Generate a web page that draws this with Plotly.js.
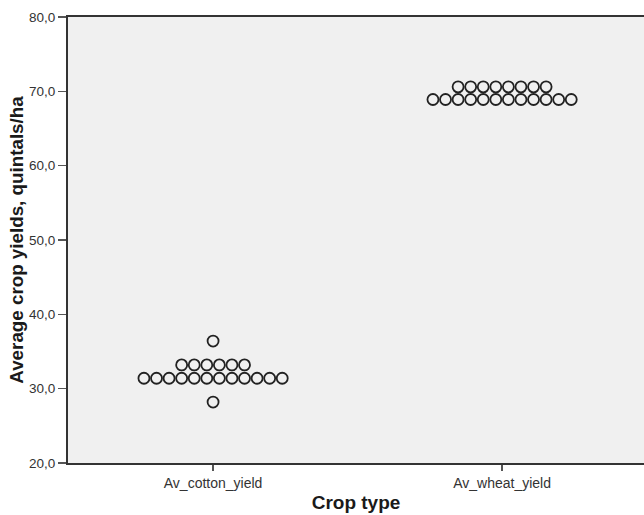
<!DOCTYPE html>
<html>
<head>
<meta charset="utf-8">
<script src="https://cdn.plot.ly/plotly-3.0.1.min.js"></script>
<style>
  html, body { margin: 0; padding: 0; background: #ffffff; }
  #chart { width: 644px; height: 515px; }
</style>
</head>
<body>
<div id="chart"></div>
<script>
// ---- data ----
const categories = ['Av_cotton_yield', 'Av_wheat_yield'];
const cottonValues = [36.4, 33.2, 31.4, 28.2];
const cottonCounts = [1, 6, 12, 1];
const wheatValues = [70.6, 68.9];
const wheatCounts = [8, 12];
const yTickValues = [20, 30, 40, 50, 60, 70, 80];
const yTickLabels = ['20,0', '30,0', '40,0', '50,0', '60,0', '70,0', '80,0'];

// ---- dot-plot layout: stack dots side by side around the category ----
const dotStep = 0.0435;
function dotTrace(catIndex, values, counts) {
  const xs = [], ys = [];
  values.forEach((v, k) => {
    const n = counts[k];
    for (let i = 0; i < n; i++) {
      xs.push(catIndex + (i - (n - 1) / 2) * dotStep);
      ys.push(v);
    }
  });
  return {
    type: 'scatter', mode: 'markers', x: xs, y: ys,
    hoverinfo: 'y',
    marker: { symbol: 'circle-open', size: 11, color: '#222222', line: { width: 1.8, color: '#222222' } },
    showlegend: false
  };
}

const data = [
  dotTrace(0, cottonValues, cottonCounts),
  dotTrace(1, wheatValues, wheatCounts)
];

const layout = {
  width: 644, height: 515,
  margin: { l: 68, r: 0, t: 17, b: 52 },
  paper_bgcolor: '#ffffff',
  plot_bgcolor: '#f0f0f0',
  font: { family: 'Arial, "Liberation Sans", sans-serif', color: '#333333', size: 13 },
  xaxis: {
    range: [-0.502, 1.491],
    tickvals: [0, 1], ticktext: categories,
    ticks: 'outside', ticklen: 6, tickwidth: 2, tickcolor: '#555555',
    showgrid: false, zeroline: false,
    showline: true, linecolor: '#333333', linewidth: 2, mirror: true,
    tickfont: { size: 14, color: '#333333' },
    title: { text: '<b>Crop type</b>', font: { size: 19, color: '#1a1a1a' }, standoff: 6 },
    fixedrange: true
  },
  yaxis: {
    range: [20, 80],
    tickvals: yTickValues, ticktext: yTickLabels,
    ticks: 'outside', ticklen: 8, tickwidth: 1.5, tickcolor: '#555555',
    showgrid: false, zeroline: false,
    showline: true, linecolor: '#333333', linewidth: 2,
    tickfont: { size: 13.5, color: '#333333' },
    title: { text: '<b>Average crop yields, quintals/ha</b>', font: { size: 18.8, color: '#1a1a1a' }, standoff: 0 },
    fixedrange: true
  }
};

Plotly.newPlot('chart', data, layout, { displayModeBar: false, staticPlot: true });
</script>
</body>
</html>
